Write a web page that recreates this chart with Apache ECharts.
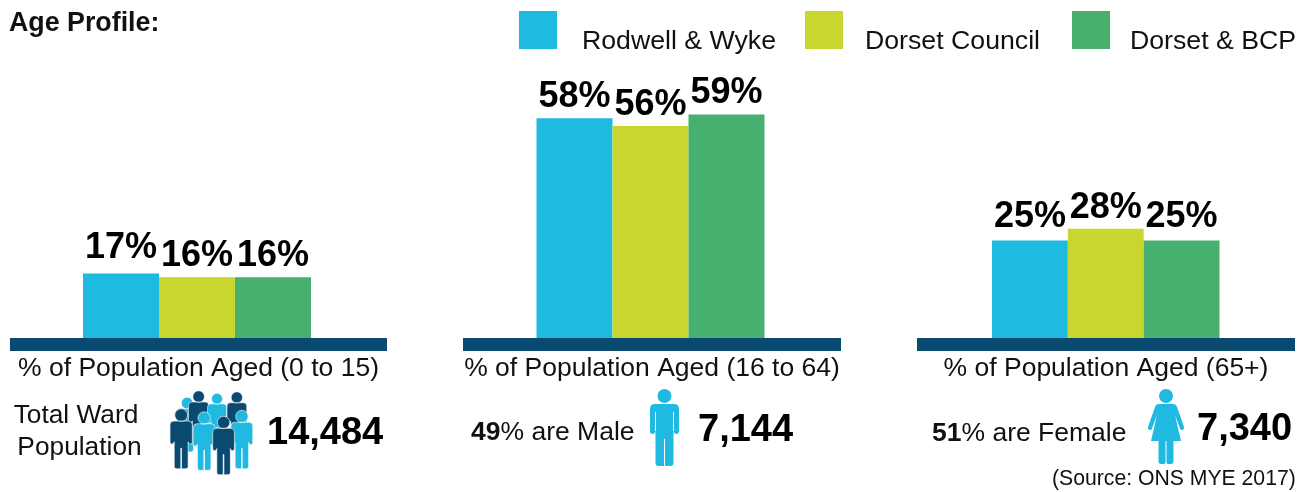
<!DOCTYPE html>
<html><head><meta charset="utf-8">
<style>html,body{margin:0;padding:0;background:#fff}#c{width:1311px;height:492px}</style>
<script src="https://cdn.jsdelivr.net/npm/echarts@6/dist/echarts.min.js"></script>
</head><body><div id="c"></div>
<script>
const ageGroups = ['% of Population Aged (0 to 15)', '% of Population Aged (16 to 64)', '% of Population Aged (65+)'];
const rodwell = [17, 58, 25];
const dorsetCouncil = [16, 56, 28];
const dorsetBcp = [16, 59, 25];
const seriesNames = ['Rodwell & Wyke', 'Dorset Council', 'Dorset & BCP'];
const seriesValues = [rodwell, dorsetCouncil, dorsetBcp];
const colors = ['#1FBAE2', '#C8D62F', '#48B06F'];
const totals = ['14,484', '7,144', '7,340'];

const FONT = '"Liberation Sans", Arial, sans-serif';
const DARK = '#0A4A70', LIGHT = '#20B9E1';
const barGrids = [
  {left: 83, width: 228, top: 34, height: 304},
  {left: 536.5, width: 228, top: 35, height: 303},
  {left: 992, width: 227.5, top: 26, height: 312}
];
const bandGrids = [
  {left: 10, width: 377},
  {left: 463, width: 378},
  {left: 917, width: 378}
];
const labelGap = [[7, 3, 3], [3, 3, 3], [5, 3, 5]];
const grid = [], xAxis = [], yAxis = [], series = [];
barGrids.forEach((g, i) => {
  grid.push(g);
  xAxis.push({type: 'category', gridIndex: i, data: [ageGroups[i]], show: false});
  yAxis.push({type: 'value', gridIndex: i, min: 0, max: 80, show: false});
  seriesNames.forEach((name, s) => {
    series.push({
      type: 'bar', name, xAxisIndex: i, yAxisIndex: i, barWidth: g.width / 3, barGap: 0,
      itemStyle: {color: colors[s]},
      data: [seriesValues[s][i]],
      label: {show: true, position: 'top', distance: labelGap[i][s], formatter: '{c}%', fontFamily: FONT,
        fontSize: 36, fontWeight: 'bold', color: '#000'}
    });
  });
});
bandGrids.forEach((b, i) => {
  const k = i + 3;
  grid.push({left: b.left, width: b.width, top: 343.7, height: 1});
  xAxis.push({type: 'category', gridIndex: k, data: [ageGroups[i]],
    axisLine: {show: true, lineStyle: {color: DARK, width: 13, cap: 'butt'}},
    axisTick: {show: false},
    axisLabel: {show: true, margin: 10, fontFamily: FONT, fontSize: 26.5, color: '#111', interval: 0}});
  yAxis.push({type: 'value', gridIndex: k, show: false});
});
const legendSpots = [
  {left: 519, pad: 20},
  {left: 805, pad: 17},
  {left: 1072, pad: 15}
];
const legend = seriesNames.map((n, i) => ({
  data: [n], left: legendSpots[i].left, top: 11, padding: 0, itemWidth: 38, itemHeight: 38,
  icon: 'rect', selectedMode: false,
  formatter: '{t|{name}}',
  textStyle: {rich: {t: {fontFamily: FONT, fontSize: 26.7, color: '#111', padding: [23, 0, 0, legendSpots[i].pad]}}}
}));

const MALE = 'M5 15H24Q29 15 29 20V42Q29 45 26.5 45Q24 45 23.5 42V74Q23.5 77 20.5 77H15V50H14V77H8.5Q5.5 77 5.5 74V42Q5 45 2.5 45Q0 45 0 42V20Q0 15 5 15ZM5 23V42H6V23ZM23 23V42H24V23ZM14.5 0A7 7 0 1 1 14.49 0Z';
const CROWD = 'M5 15H24Q29 15 29 20V42Q29 45 26.5 45Q24 45 23.5 42V74Q23.5 77 20.5 77H15V50H14V77H8.5Q5.5 77 5.5 74V42Q5 45 2.5 45Q0 45 0 42V20Q0 15 5 15ZM14.5 -1A8.3 8.3 0 1 1 14.49 -1Z';
const FEMALE = 'M11 15H25Q28 15 29 18L36 38Q36.5 40.5 34.5 41Q32.5 41.5 32 39.5L27 26L33 52H25.5V72Q25.5 75 23 75H20Q18.5 75 18.5 73V52H17.5V73Q17.5 75 16 75H13Q10.5 75 10.5 72V52H3L9 26L4 39.5Q3.5 41.5 1.5 41Q-0.5 40.5 0 38L7 18Q8 15 11 15ZM18 0A7 7 0 1 1 17.99 0Z';
const icons = [
  [CROWD, 177, 398, .7, LIGHT, 1], [CROWD, 188.5, 391.5, .7, DARK, 1], [CROWD, 207.5, 394, .66, LIGHT, 1], [CROWD, 227, 392.5, .68, DARK, 1],
  [CROWD, 231, 411, .75, LIGHT, 1], [CROWD, 170, 409.5, .77, DARK, 1], [CROWD, 193.3, 412.5, .75, LIGHT, 1], [CROWD, 212.7, 417, .75, DARK, 1],
  [MALE, 650, 389, 1, LIGHT, 0], [FEMALE, 1148, 389, 1, LIGHT, 0]
];
series.push({
  type: 'custom', coordinateSystem: 'none', silent: true,
  data: icons.map((_, i) => [i]),
  renderItem: (params, api) => {
    const c = icons[api.value(0)];
    return {type: 'path', x: c[1], y: c[2], scaleX: c[3], scaleY: c[3],
      shape: {pathData: c[0]},
      style: {fill: c[4], stroke: c[5] ? '#fff' : null, lineWidth: c[5] ? 0.8 : 0}};
  }
});
const txt = (x, y, text, size, weight, align, extra) => ({type: 'text', x, y,
  style: Object.assign({text, fontFamily: FONT, fontSize: size, fontWeight: weight || 'normal', fill: '#111',
    textAlign: align || 'left', textVerticalAlign: 'middle', align: align || 'left', verticalAlign: 'middle'}, extra || {})});
const richB = {rich: {b: {fontFamily: FONT, fontSize: 26.5, fontWeight: 'bold', fill: '#111'}}};
const graphic = [
  txt(9, 24, 'Age Profile:', 26.8, 'bold'),
  txt(76, 416, 'Total Ward', 26.3, 'normal', 'center'),
  txt(79.5, 448, 'Population', 26.3, 'normal', 'center'),
  txt(267, 434, totals[0], 38, 'bold', 'left', {fill: '#000'}),
  txt(471, 433, '{b|49}% are Male', 26.5, 'normal', 'left', richB),
  txt(698, 431, totals[1], 38, 'bold', 'left', {fill: '#000'}),
  txt(932, 434, '{b|51}% are Female', 26.5, 'normal', 'left', richB),
  txt(1197, 430, totals[2], 38, 'bold', 'left', {fill: '#000'}),
  txt(1052, 479, '(Source: ONS MYE 2017)', 21.2)
];
const chart = echarts.init(document.getElementById('c'), null, {renderer: 'canvas'});
chart.setOption({animation: false, backgroundColor: '#fff', tooltip: {show: false}, grid, xAxis, yAxis, series, legend, graphic});
</script></body></html>
